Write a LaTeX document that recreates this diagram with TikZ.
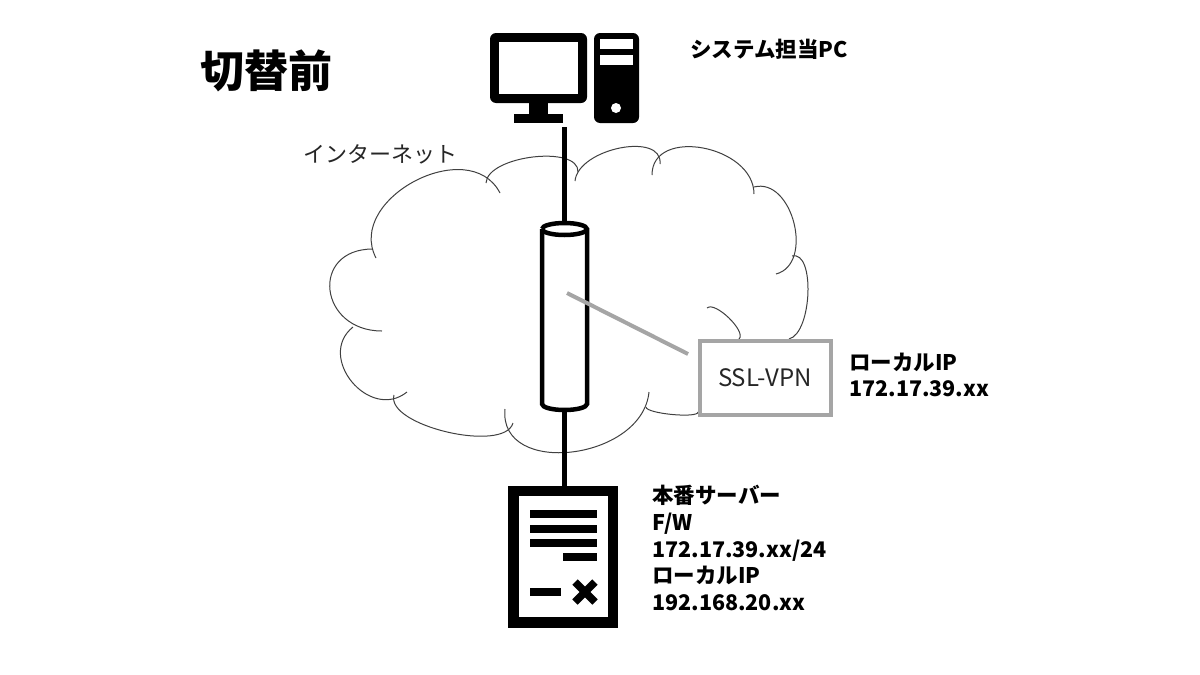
\documentclass[tikz,border=0pt]{standalone}
\usepackage{fontspec}
\usetikzlibrary{calc}
\setmainfont{Noto Sans CJK JP}
\definecolor{vpngray}{HTML}{A5A5A5}
\definecolor{cloudline}{HTML}{404040}
\newcommand{\cloudbump}[3]{\draw[cloudarc] #1 .. controls ($#1+1.3333*#2-0.6667*#1-0.6667*#3$) and ($#3+1.3333*#2-0.6667*#1-0.6667*#3$) .. #3;}
\tikzset{
  cloudarc/.style={cloudline,line width=1pt},
  blackbar/.style={fill=black,draw=none},
  wire/.style={black,line width=5.7pt},
  vpnline/.style={vpngray,line width=4pt},
  boldlabel/.style={anchor=west,inner sep=0pt,font=\bfseries\fontsize{21.5}{24}\selectfont},
  thinlabel/.style={anchor=west,inner sep=0pt,text=black!85,font=\fontsize{22}{26}\selectfont},
}
\begin{document}
\begin{tikzpicture}[x=1pt,y=-1pt]
  \useasboundingbox (0,0) rectangle (1200,675);

  % cloud
  \cloudbump{(376,258)}{(415,181)}{(500,193)}
  \cloudbump{(373,249)}{(330,290)}{(382,331)}
  \cloudbump{(353,327)}{(352,382)}{(407,392)}
  \cloudbump{(394,395)}{(447,432)}{(513,423)}
  \cloudbump{(505,409)}{(572,452)}{(649,392)}
  \cloudbump{(646,407)}{(672,414.5)}{(698,412)}
  \cloudbump{(707,308)}{(729,318)}{(739,339)}
  \cloudbump{(776,274)}{(794,223)}{(754,187)}
  \cloudbump{(792,256)}{(808,293)}{(789,339)}
  \cloudbump{(754,194)}{(703,148)}{(652,175)}
  \cloudbump{(660,164)}{(620,148)}{(575,181)}
  \cloudbump{(486,183)}{(533,157)}{(578,172)}

  % wires
  \coordinate (pcb) at (564.5,127);
  \coordinate (cylt) at (564.5,224);
  \coordinate (cylb) at (564.5,408);
  \coordinate (srvt) at (564.5,487);
  \draw[wire] (pcb) -- (cylt);
  \draw[wire] (cylb) -- (srvt);

  % cylinder
  \draw[black,line width=4.5pt,fill=white] (542,229) -- (542,404)
    arc[start angle=180,end angle=0,x radius=22.5,y radius=6] -- (587,229)
    arc[start angle=0,end angle=-180,x radius=22.5,y radius=6];
  \draw[black,line width=4.5pt] (542,229) arc[start angle=180,end angle=0,x radius=22.5,y radius=6];

  % pc
  \fill[black,rounded corners=6pt] (490,33) rectangle (587,103);
  \fill[white] (499,42) rectangle (578,94);
  \fill[blackbar] (529,100) rectangle (548,115);
  \fill[blackbar] (514,114) rectangle (563,123);
  \fill[black,rounded corners=6pt] (594,33) rectangle (639,123);
  \fill[white] (600,39) rectangle (633,49);
  \fill[white] (600,55) rectangle (633,65);
  \fill[white] (616,108) circle (5);

  % server
  \fill[black] (508,486) rectangle (618,628);
  \fill[white] (519,496) rectangle (608,617);
  \foreach \ytop in {510,525,539}
    \fill[blackbar] (530,\ytop) rectangle (597,\ytop+7.5);
  \fill[blackbar] (563,553) rectangle (597,561);
  \fill[blackbar] (530,588) rectangle (561,596);
  \draw[black,line width=7.5pt] (575,582) -- (595,602);
  \draw[black,line width=7.5pt] (595,582) -- (575,602);

  % ssl-vpn
  \node (vpn) at (765,377.5) [draw=vpngray,line width=4pt,fill=white,minimum width=131pt,minimum height=74pt,inner sep=0pt,text=black!85,font=\fontsize{24}{28}\selectfont] {SSL-VPN};
  \coordinate (vpnend) at (688,354);
  \coordinate (fwin) at (567,293);
  \draw[vpnline] (fwin) -- (vpnend);

  % labels
  \node (title) at (200,71) [anchor=west,inner sep=0pt,font=\bfseries\fontsize{44}{50}\selectfont] {切替前};
  \node (pclabel) at (690,49) [boldlabel] {システム担当PC};
  \node (netlabel) at (303,154) [thinlabel] {インターネット};
  \node (vpnlabel) at (849,375) [boldlabel,align=left,font=\bfseries\fontsize{21.5}{26.5}\selectfont] {ローカルIP\\172.17.39.xx};
  \node (srvlabel) at (652,548) [boldlabel,align=left,font=\bfseries\fontsize{21.5}{26.7}\selectfont] {本番サーバー\\F/W\\172.17.39.xx/24\\ローカルIP\\192.168.20.xx};
\end{tikzpicture}
\end{document}
